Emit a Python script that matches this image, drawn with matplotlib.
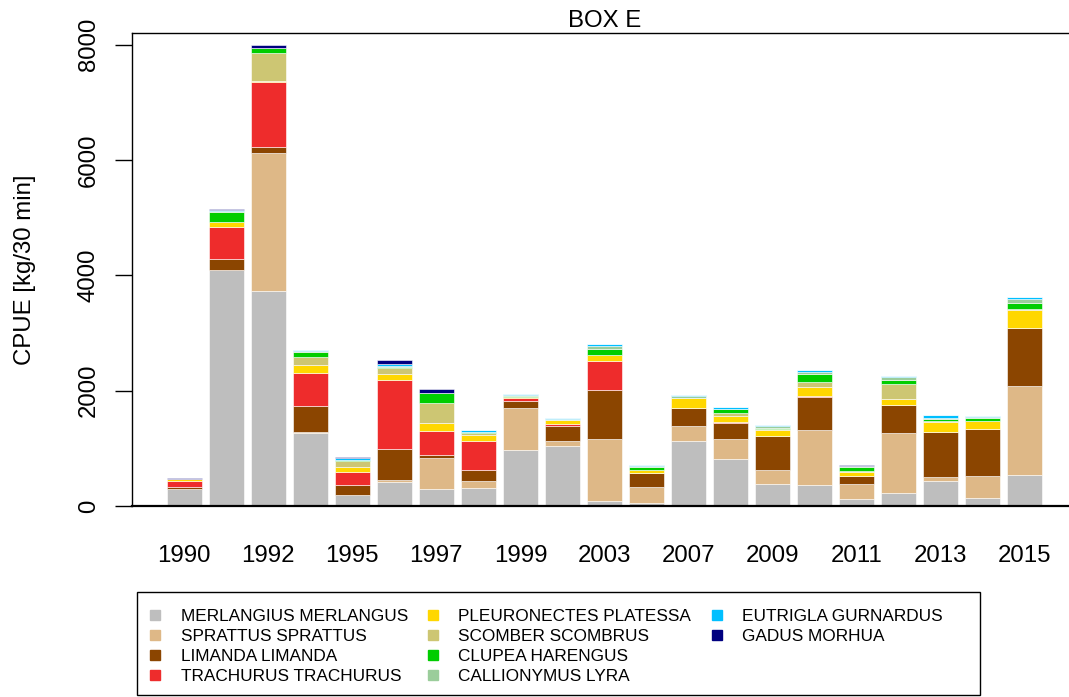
import matplotlib
matplotlib.use("Agg")
import matplotlib.pyplot as plt
from matplotlib.lines import Line2D
from matplotlib.patches import Rectangle
import numpy as np

plt.rcParams['font.family'] = ['Liberation Sans', 'DejaVu Sans']

years = [1990, 1991, 1992, 1993, 1995, 1996, 1997, 1998, 1999, 2001, 2003,
         2005, 2007, 2008, 2009, 2010, 2011, 2012, 2013, 2014, 2015]

species = ["MERLANGIUS MERLANGUS", "SPRATTUS SPRATTUS", "LIMANDA LIMANDA",
           "TRACHURUS TRACHURUS", "PLEURONECTES PLATESSA", "SCOMBER SCOMBRUS",
           "CLUPEA HARENGUS", "CALLIONYMUS LYRA", "EUTRIGLA GURNARDUS",
           "GADUS MORHUA"]

merlangius   = [300, 4085, 3733, 1269, 185, 421, 300, 317, 975, 1044, 87, 46, 1125, 808, 386, 369, 115, 225, 427, 144, 531]
sprattus     = [0, 0, 2383, 20, 10, 29, 525, 116, 727, 76, 1073, 277, 254, 352, 237, 947, 260, 1033, 70, 381, 1546]
limanda      = [25, 190, 116, 442, 168, 537, 58, 196, 121, 270, 848, 243, 312, 282, 594, 571, 150, 490, 779, 803, 1010]
trachurus    = [115, 555, 1113, 583, 231, 1206, 421, 496, 41, 35, 514, 10, 0, 17, 0, 17, 0, 0, 0, 10, 0]
pleuronectes = [25, 92, 29, 127, 86, 104, 133, 104, 29, 69, 97, 47, 173, 104, 93, 151, 58, 110, 184, 139, 311]
scomber      = [5, 10, 473, 138, 104, 104, 351, 40, 0, 0, 0, 0, 0, 41, 20, 91, 20, 254, 10, 0, 10]
clupea       = [0, 165, 87, 99, 10, 10, 173, 12, 20, 0, 104, 47, 15, 70, 26, 144, 72, 81, 31, 40, 118]
callionymus  = [0, 15, 0, 5, 12, 15, 0, 10, 5, 8, 52, 28, 20, 14, 25, 35, 10, 35, 28, 18, 69]
eutrigla     = [5, 15, 5, 20, 25, 35, 0, 30, 20, 16, 29, 12, 22, 20, 21, 29, 5, 28, 52, 18, 23]
gadus        = [10, 15, 46, 0, 17, 69, 59, 0, 0, 0, 0, 0, 0, 0, 0, 0, 20, 0, 0, 0, 0]

series = [merlangius, sprattus, limanda, trachurus, pleuronectes, scomber,
          clupea, callionymus, eutrigla, gadus]

colors = ["#BEBEBE", "#DEB887", "#8B4500", "#EE2C2C", "#FFD700", "#CDC673",
          "#00CD00", "#9BCD9B", "#00BFFF", "#000080"]

W, H = 1069, 697
fig = plt.figure(figsize=(W / 100, H / 100), dpi=100)
ax_left, ax_right, ax_top, ax_bot = 131.5, 1077.5, 33, 506
ax = fig.add_axes([ax_left / W, 1 - ax_bot / H, (ax_right - ax_left) / W, (ax_bot - ax_top) / H])

n = len(years)
x = 0.7 + 1.2 * np.arange(n)
bottom = np.zeros(n)
for vals, col in zip(series, colors):
    v = np.array(vals, dtype=float)
    ax.bar(x, v, width=1.0, bottom=bottom, color=col, edgecolor='white', linewidth=0.4)
    bottom += v

ax.set_xlim(-0.8, 26.2)
ax.set_ylim(0, 8200)

fs = 17.28
ax.set_xticks(x[::2])
ax.set_xticklabels([str(y) for y in years[::2]], fontsize=fs)
ax.tick_params(axis='x', length=0, pad=28)
ax.set_yticks([0, 2000, 4000, 6000, 8000])
ax.set_yticklabels(["0", "2000", "4000", "6000", "8000"], fontsize=fs, rotation=90, va='center')
ax.tick_params(axis='y', length=12.2, width=1, pad=10.5)

for s in ['left', 'top']:
    ax.spines[s].set_linewidth(1.0)
ax.spines['bottom'].set_linewidth(1.6)
ax.spines['right'].set_visible(False)

ax.set_ylabel("CPUE [kg/30 min]", fontsize=fs, va='center')
ax.yaxis.set_label_coords((25 - ax_left) / (ax_right - ax_left), 0.5)
ax.set_title("BOX E", fontsize=fs, pad=4.5)

# legend (column-major, 4 rows like R's legend; two blank slots fill column 3)
lfs = 12.4
handles = [Line2D([], [], linestyle='none', marker='s', markersize=6.5,
                  markerfacecolor=c, markeredgecolor=c) for c in colors]
labels = list(species)
handles += [Line2D([], [], linestyle='none', marker='none')] * 2
labels += ["", ""]
leg = fig.legend(handles, labels, loc='upper left', ncol=3,
                 bbox_to_anchor=(137.3 / W, 1 - 597.0 / H), frameon=False,
                 fontsize=lfs, borderpad=0.7, borderaxespad=0,
                 handlelength=0.71, handletextpad=1.1, labelspacing=0.28,
                 columnspacing=1.12)
fig.add_artist(Rectangle((137.3 / W, 1 - 695 / H), (980 - 137.3) / W, (695 - 591.7) / H,
                         transform=fig.transFigure, fill=False, edgecolor='black', linewidth=1.0))

fig.savefig("out.png", dpi=100)
